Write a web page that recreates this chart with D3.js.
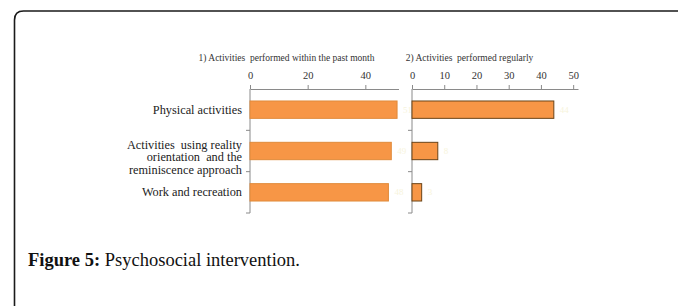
<!DOCTYPE html>
<html>
<head>
<meta charset="utf-8">
<script src="https://cdn.jsdelivr.net/npm/d3@7"></script>
<style>
  body { margin: 0; background: #fff; }
  svg text { font-family: "Liberation Serif", "Times New Roman", serif; white-space: pre; }
</style>
</head>
<body>
<div id="chart"></div>
<script>
// 1: DATA
const categories = ["Physical activities", "Activities using reality orientation and the reminiscence approach", "Work and recreation"];
const categoryLines = [
    ["Physical activities"],
    ["Activities  using reality", "orientation  and the", "reminiscence approach"],
    ["Work and recreation"]
];
const pastMonthValues = [51, 49, 48];
const regularValues = [44, 8, 3];
const pastMonthTicks = [0, 20, 40];
const regularTicks = [0, 10, 20, 30, 40, 50];
const panelTitles = ["1) Activities  performed within the past month", "2) Activities  performed regularly"];

// 2: SVG
const W = 678, H = 306;
const svg = d3.select("#chart").append("svg")
    .attr("width", W)
    .attr("height", H);

// frame with rounded top-left corner, running off right and bottom
const r = 9;
svg.append("path")
    .attr("d", `M14.5,${H + 5} L14.5,${11 + r} Q14.5,11 ${14.5 + r},11 L${W + 5},11`)
    .attr("fill", "none")
    .attr("stroke", "#1a1a1a")
    .attr("stroke-width", 1.6);

// 3: SCALES
const axisY = 89, bottomY = 213;
const yScale = d3.scaleBand()
    .domain(categories)
    .range([axisY, bottomY])
    .paddingInner(0.58)
    .paddingOuter(0.29);

const x1 = d3.scaleLinear().domain([0, 51.5]).range([250, 398.5]);
const x2 = d3.scaleLinear().domain([0, 51.5]).range([412, 578]);

// 4: DRAW A PANEL
function drawPanel(xScale, values, ticks, title, titleX, barStroke) {
    const g = svg.append("g");

    // top axis
    const ax = g.append("g")
        .attr("transform", `translate(0,${axisY})`)
        .call(d3.axisTop(xScale).tickValues(ticks).tickSize(4).tickSizeOuter(0).tickPadding(6));
    ax.select(".domain").attr("stroke", "#8a8a8a");
    ax.selectAll(".tick line").attr("stroke", "#8a8a8a");
    ax.selectAll(".tick text")
        .attr("fill", "#333")
        .style("font-family", "'Liberation Serif', serif")
        .style("font-size", "10.5px");

    // vertical category axis
    const x0 = xScale(0);
    g.append("line")
        .attr("x1", x0).attr("x2", x0)
        .attr("y1", axisY).attr("y2", bottomY)
        .attr("stroke", "#8a8a8a");
    const step = yScale.step();
    const bounds = categories.map((c, i) => yScale(c) - yScale.paddingOuter() * step + step);
    g.selectAll(".cat-tick")
        .data(bounds)
        .enter().append("line")
        .attr("x1", x0 - 4).attr("x2", x0)
        .attr("y1", d => d).attr("y2", d => d)
        .attr("stroke", "#8a8a8a");

    // bars
    g.selectAll(".bar")
        .data(values)
        .enter().append("rect")
        .attr("x", x0)
        .attr("y", (d, i) => yScale(categories[i]))
        .attr("width", d => xScale(d) - x0)
        .attr("height", yScale.bandwidth())
        .attr("fill", "#f79646")
        .attr("stroke", barStroke)
        .attr("stroke-width", 1);

    // faint value labels
    g.selectAll(".val")
        .data(values)
        .enter().append("text")
        .attr("x", d => xScale(d) + 6)
        .attr("y", (d, i) => yScale(categories[i]) + yScale.bandwidth() / 2 + 3)
        .attr("fill", "#f7f4dc")
        .style("font-size", "9px")
        .text(d => d);

    // title
    g.append("text")
        .attr("x", titleX)
        .attr("y", 61)
        .attr("text-anchor", "middle")
        .attr("fill", "#333")
        .style("font-size", "9.5px")
        .text(title);
}

drawPanel(x1, pastMonthValues, pastMonthTicks, panelTitles[0], 286.5, "#e08a3a");
drawPanel(x2, regularValues, regularTicks, panelTitles[1], 469.5, "#6b4418");

// 5: CATEGORY LABELS
const lineH = 12.5;
categories.forEach((c, i) => {
    const lines = categoryLines[i];
    const cy = yScale(c) + yScale.bandwidth() / 2 + (lines.length > 1 ? 6 : 0);
    const t = svg.append("text")
        .attr("text-anchor", "end")
        .attr("fill", "#222")
        .style("font-size", "12.3px");
    lines.forEach((ln, j) => {
        t.append("tspan")
            .attr("x", 242)
            .attr("y", cy + 4 + (j - (lines.length - 1) / 2) * lineH)
            .text(ln);
    });
});

// 6: CAPTION
const cap = svg.append("text")
    .attr("x", 28)
    .attr("y", 266)
    .attr("fill", "#111")
    .style("font-size", "18.5px");
cap.append("tspan").style("font-weight", "bold").text("Figure 5:");
cap.append("tspan").text(" Psychosocial intervention.");
</script>
</body>
</html>
